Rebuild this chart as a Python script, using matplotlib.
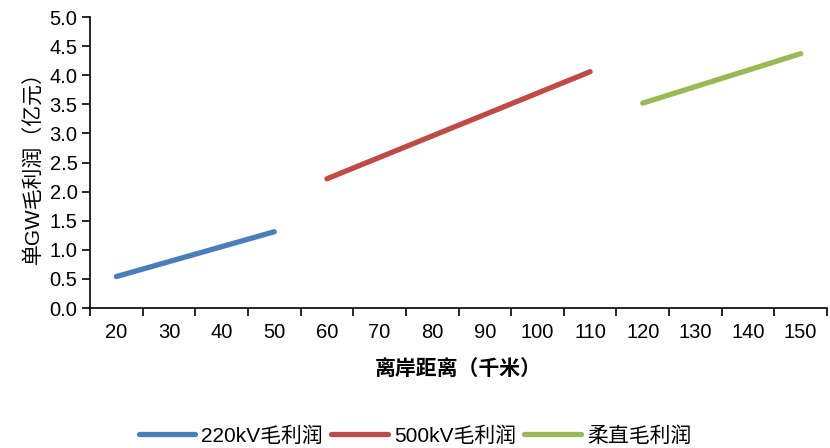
import matplotlib.pyplot as plt
from matplotlib.ticker import FixedLocator, NullFormatter

plt.rcParams['font.family'] = ['Liberation Sans', 'Noto Sans CJK SC']

# distance categories (km) and profit per GW (100 million yuan)
distances = [20, 30, 40, 50, 60, 70, 80, 90, 100, 110, 120, 130, 140, 150]

ac220_x = [20, 50]
ac220_y = [0.54, 1.31]
ac500_x = [60, 110]
ac500_y = [2.22, 4.06]
vsc_x = [120, 150]
vsc_y = [3.52, 4.37]

fig = plt.figure(figsize=(8.3, 4.48), dpi=100)
ax = fig.add_axes([90 / 830, 1 - 308 / 448, 737 / 830, 291 / 448])

kw = dict(lw=3.8, solid_capstyle='round')
ax.plot(ac220_x, ac220_y, color='#4A7EBB', label='220kV毛利润', **kw)
ax.plot(ac500_x, ac500_y, color='#BE4B48', label='500kV毛利润', **kw)
ax.plot(vsc_x, vsc_y, color='#98B954', label='柔直毛利润', **kw)

ax.set_xlim(15, 155)
ax.set_ylim(0, 5)
ax.set_yticks([i * 0.5 for i in range(11)])
ax.yaxis.set_major_formatter(plt.FuncFormatter(lambda v, p: f'{v:.1f}'))

# category-style axis: tick marks between categories, labels centred
ax.xaxis.set_major_locator(FixedLocator([d - 5 for d in distances] + [155]))
ax.xaxis.set_major_formatter(NullFormatter())
ax.xaxis.set_minor_locator(FixedLocator(distances))
ax.set_xticklabels([str(d) for d in distances], minor=True)
ax.tick_params(axis='x', which='minor', length=0, pad=11, labelsize=14.5)
ax.tick_params(axis='x', which='major', length=6, width=1.2, direction='out')
ax.tick_params(axis='y', length=6, width=1.2, pad=3, labelsize=14.5)

for s in ['top', 'right']:
    ax.spines[s].set_visible(False)
for s in ['left', 'bottom']:
    ax.spines[s].set_linewidth(1.2)

ax.set_xlabel('离岸距离（千米）', fontsize=15, fontweight='bold', labelpad=12)
ax.set_ylabel('单GW毛利润（亿元）', fontsize=15, labelpad=4)

fig.legend(loc='center', bbox_to_anchor=(0.5, 1 - 436 / 448), ncol=3,
           frameon=False, fontsize=15, handlelength=2.7, columnspacing=0.4,
           handletextpad=0.3)

fig.savefig('out.png', dpi=100)
